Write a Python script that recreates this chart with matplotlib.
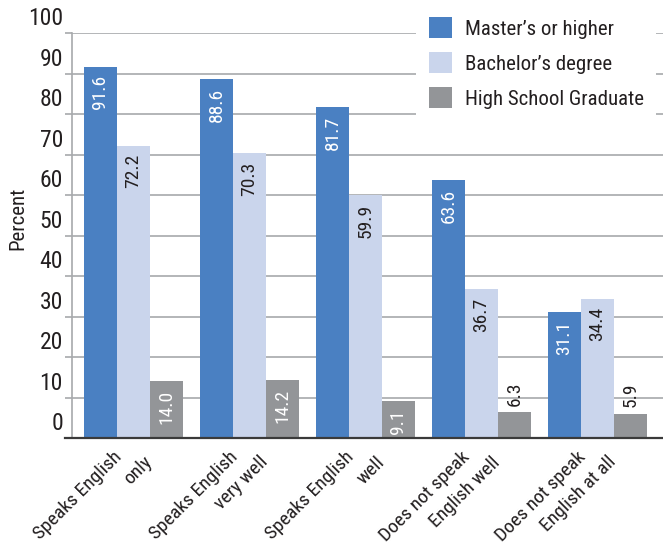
import matplotlib.pyplot as plt
import matplotlib.transforms as mtransforms
import numpy as np

plt.rcParams['font.family'] = ['Roboto Condensed', 'DejaVu Sans']

categories = [("Speaks English", "only"),
              ("Speaks English", "very well"),
              ("Speaks English", "well"),
              ("Does not speak", "English well"),
              ("Does not speak", "English at all")]
series_names = ["Master\u2019s or higher", "Bachelor\u2019s degree", "High School Graduate"]
masters = [91.6, 88.6, 81.7, 63.6, 31.1]
bachelors = [72.2, 70.3, 59.9, 36.7, 34.4]
highschool = [14.0, 14.2, 9.1, 6.3, 5.9]
yticks = [0, 10, 20, 30, 40, 50, 60, 70, 80, 90, 100]

colors = ['#4a80c2', '#cad5ec', '#939598']
label_colors = ['white', '#231f20', 'white']
text_col = '#231f20'
grid_col = '#a7a9ac'

fig = plt.figure(figsize=(6.63, 5.46), dpi=100)
ax = fig.add_axes([72/663, 1-438/546, 1-72/663, (438-33)/546])

x = np.arange(len(categories))
w = 33/116
for k, vals in enumerate([masters, bachelors, highschool]):
    xs = x + (k-1)*w
    ax.bar(xs, vals, width=w, color=colors[k], label=series_names[k], zorder=2)
    for xi, v in zip(xs, vals):
        if v > 8:
            ax.annotate(f"{v:.1f}", (xi, v), xytext=(0, -6), textcoords='offset points',
                        rotation=90, ha='center', va='top', fontsize=14,
                        color=label_colors[k], zorder=3)
        else:
            ax.annotate(f"{v:.1f}", (xi, v), xytext=(0, 5), textcoords='offset points',
                        rotation=90, ha='center', va='bottom', fontsize=14,
                        color=text_col, zorder=3)

ax.set_xlim(-(133.5-72)/116, 4 + (663-597.5)/116)
ax.set_ylim(0, 100)
ax.set_yticks(yticks)
ax.set_xticks([])
ax.yaxis.grid(True, color=grid_col, linewidth=1.2, zorder=0)
ax.set_axisbelow(True)
ax.tick_params(axis='y', length=5, width=1.2, color=grid_col, pad=1.5,
               labelsize=17, labelcolor=text_col)
for spine in ['top', 'right']:
    ax.spines[spine].set_visible(False)
ax.spines['left'].set_color(grid_col)
ax.spines['left'].set_linewidth(1.2)
ax.spines['bottom'].set_color('#3a3a3a')
ax.spines['bottom'].set_linewidth(1.6)
ax.spines['bottom'].set_bounds(-(133.5-65)/116, 4.6)

shift = mtransforms.ScaledTranslation(0, 2/72, fig.dpi_scale_trans)
for lab in ax.get_yticklabels():
    lab.set_va('bottom')
    lab.set_transform(lab.get_transform() + shift)

# two-line rotated category labels
for xi, (l1, l2) in zip(x, categories):
    ax.annotate(l1, (xi, 0), xycoords=('data', 'axes fraction'), xytext=(-8, -14),
                textcoords='offset points', rotation=45, rotation_mode='anchor',
                ha='right', va='baseline', fontsize=14, color=text_col)
    ax.annotate(l2, (xi, 0), xycoords=('data', 'axes fraction'), xytext=(14, -18),
                textcoords='offset points', rotation=45, rotation_mode='anchor',
                ha='right', va='baseline', fontsize=14, color=text_col)

fig.text(18/663, 1-218/546, "Percent", rotation=90, ha='center', va='center',
         fontsize=15, color=text_col)

leg = ax.legend(loc='upper left', bbox_to_anchor=(416/663, 1-5/546),
                bbox_transform=fig.transFigure, frameon=True, fontsize=15,
                handlelength=1.15, handleheight=1.15, handletextpad=0.6,
                labelspacing=0.65, borderpad=0.6, borderaxespad=0)
leg.get_frame().set_facecolor('white')
leg.get_frame().set_edgecolor('none')
leg.get_frame().set_alpha(1)
leg.get_frame().set_boxstyle('square', pad=0)
for t in leg.get_texts():
    t.set_color(text_col)

fig.savefig('out.png', dpi=100)
